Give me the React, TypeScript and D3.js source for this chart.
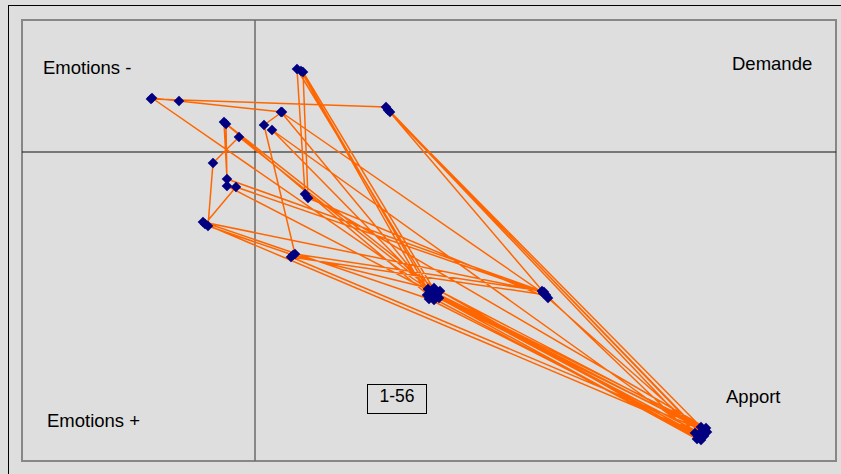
import React from "react";
import * as d3 from "d3";

// Trajectory of 56 successive positions (1-56), in plot units (axes cross at 0,0)
const stepX: number[] = [
  -10.4, 13.1, 44.5, 17.8, 4.2, 5.0, 45.1, 17.3, -10.3, -7.6,
  2.7, 0.9, 4.0, 28.7, 44.2, 18.4, 4.8, 5.3, 29.3, 44.9,
  13.5, 44.6, 17.9, -3.1, -2.8, 28.9, -5.2, 17.4, 44.3, 13.3,
  29.1, 3.6, 45.2, 18.2, -1.6, -4.2, -4.7, 3.8, 18.5, 44.6,
  17.2, 4.6, 17.9, -2.9, -2.8, 17.5, 44.0, 1.7, 18.1, 45.0,
  17.7, 2.6, 28.8, -1.9, -5.0, 44.6,
];
const stepY: number[] = [
  5.3, 4.5, -28.1, -14.1, 8.3, -4.2, -27.6, -13.7, 5.4, 5.1,
  4.0, 2.7, -10.2, -13.9, -28.7, -14.6, 8.0, -4.6, -14.6, -28.4,
  4.0, -27.5, -13.6, 3.0, -2.7, -14.0, -7.0, -14.7, -28.4, 4.2,
  -14.3, -10.5, -28.0, -14.2, 1.5, -1.1, -7.4, -10.3, -13.9, -28.8,
  -14.3, 8.1, -14.8, 2.8, -3.4, -13.9, -28.1, 2.2, -14.5, -27.8,
  -14.2, 4.0, -14.1, -3.5, -7.2, -28.2,
];
const quadrantLabels: string[] = ["Emotions -", "Demande", "Emotions +", "Apport"];
const rangeLabel = "1-56";

const W = 841;
const H = 474;
const plot = { left: 22, top: 20, right: 836, bottom: 461 };
const font = "'Liberation Sans', Arial, sans-serif";

export default function App() {
  const x = d3.scaleLinear().domain([-23.3, 58.1]).range([plot.left, plot.right]);
  const y = d3.scaleLinear().domain([-30.9, 13.2]).range([plot.bottom, plot.top]);
  const pts: [number, number][] = stepX.map((v, i) => [x(v), y(stepY[i])]);
  const line = d3.line<[number, number]>().x((d) => d[0]).y((d) => d[1]);
  const marker = d3.symbol().type(d3.symbolSquare).size(56)();

  return (
    <svg
      width={W}
      height={H}
      style={{ position: "absolute", left: 0, top: 0, display: "block" }}
      fontFamily={font}
    >
      <rect x={0} y={0} width={W} height={H} fill="#dedede" />
      <rect x={8.5} y={5.5} width={W + 10} height={H + 10} fill="#dedede" stroke="#000" strokeWidth={1} />
      <rect
        x={plot.left}
        y={plot.top}
        width={plot.right - plot.left}
        height={plot.bottom - plot.top}
        fill="#dedede"
        stroke="#878787"
        strokeWidth={2}
      />
      {/* axes through origin */}
      <line x1={x(0)} x2={x(0)} y1={plot.top} y2={plot.bottom} stroke="#6a6a6a" strokeWidth={1.5} />
      <line x1={plot.left} x2={plot.right} y1={y(0)} y2={y(0)} stroke="#111" strokeWidth={1} />

      <path d={line(pts) || ""} fill="none" stroke="#ff6600" strokeWidth={1.5} strokeLinejoin="round" />
      {pts.map((p, i) => (
        <path key={i} d={marker} transform={`translate(${p[0]},${p[1]}) rotate(45)`} fill="#000080" />
      ))}

      <g fontSize={18.5} fill="#000">
        <text x={43} y={74}>{quadrantLabels[0]}</text>
        <text x={732} y={70}>{quadrantLabels[1]}</text>
        <text x={47} y={427}>{quadrantLabels[2]}</text>
        <text x={726} y={403}>{quadrantLabels[3]}</text>
      </g>
      <rect x={367.5} y={384.5} width={59} height={29} fill="none" stroke="#000" strokeWidth={1} />
      <text x={397} y={402} fontSize={17.5} textAnchor="middle" fill="#000">{rangeLabel}</text>
    </svg>
  );
}
